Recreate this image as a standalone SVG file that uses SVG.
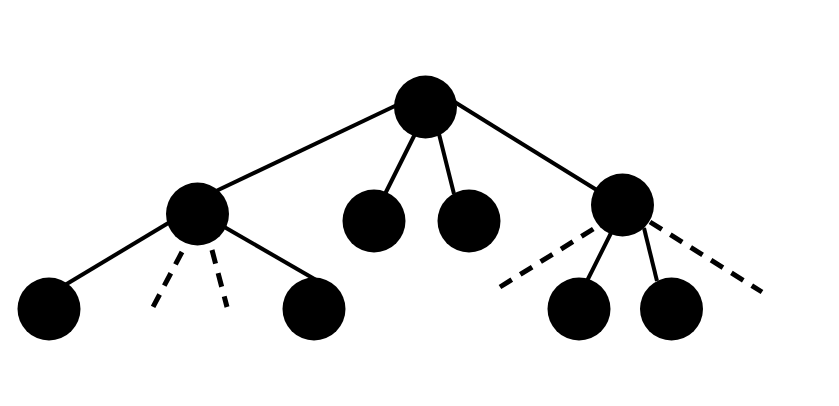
<svg xmlns="http://www.w3.org/2000/svg" width="839" height="406" viewBox="0 0 839 406">
<style>
.e{stroke:#000;stroke-width:4;fill:none}
.d{stroke:#000;stroke-width:5;fill:none;stroke-dasharray:14 10}
.n{fill:#000}
</style>
<rect width="839" height="406" fill="#fff"/>
<g id="connectors">
<line class="e" x1="397" y1="105" x2="214" y2="192"/>
<line class="e" x1="415" y1="134" x2="385" y2="194"/>
<line class="e" x1="439" y1="134" x2="454" y2="194"/>
<line class="e" x1="453" y1="101" x2="600" y2="192"/>
<line class="e" x1="170" y1="222" x2="65" y2="285"/>
<line class="e" x1="223" y1="226.2" x2="317" y2="280.5"/>
<line class="e" x1="612" y1="231" x2="587" y2="281"/>
<line class="e" x1="644" y1="228" x2="657" y2="281"/>
<line class="d" x1="182" y1="252" x2="153" y2="307"/>
<line class="d" x1="212" y1="250" x2="227" y2="307"/>
<line class="d" x1="593.3" y1="229" x2="500" y2="287"/>
<line class="d" x1="650" y1="222" x2="762" y2="292"/>
</g>
<g id="root"><circle class="n" cx="425.5" cy="107" r="31.5"/></g>
<g id="left"><circle class="n" cx="197.5" cy="214" r="31.5"/></g>
<g id="mid1"><circle class="n" cx="374" cy="221" r="31.5"/></g>
<g id="mid2"><circle class="n" cx="469" cy="221" r="31.5"/></g>
<g id="right"><circle class="n" cx="622.5" cy="205" r="31.5"/></g>
<g id="leaf1"><circle class="n" cx="49" cy="309" r="31.5"/></g>
<g id="leaf2"><circle class="n" cx="314" cy="309" r="31.5"/></g>
<g id="leaf3"><circle class="n" cx="579" cy="309" r="31.5"/></g>
<g id="leaf4"><circle class="n" cx="671.5" cy="309" r="31.5"/></g>
</svg>
